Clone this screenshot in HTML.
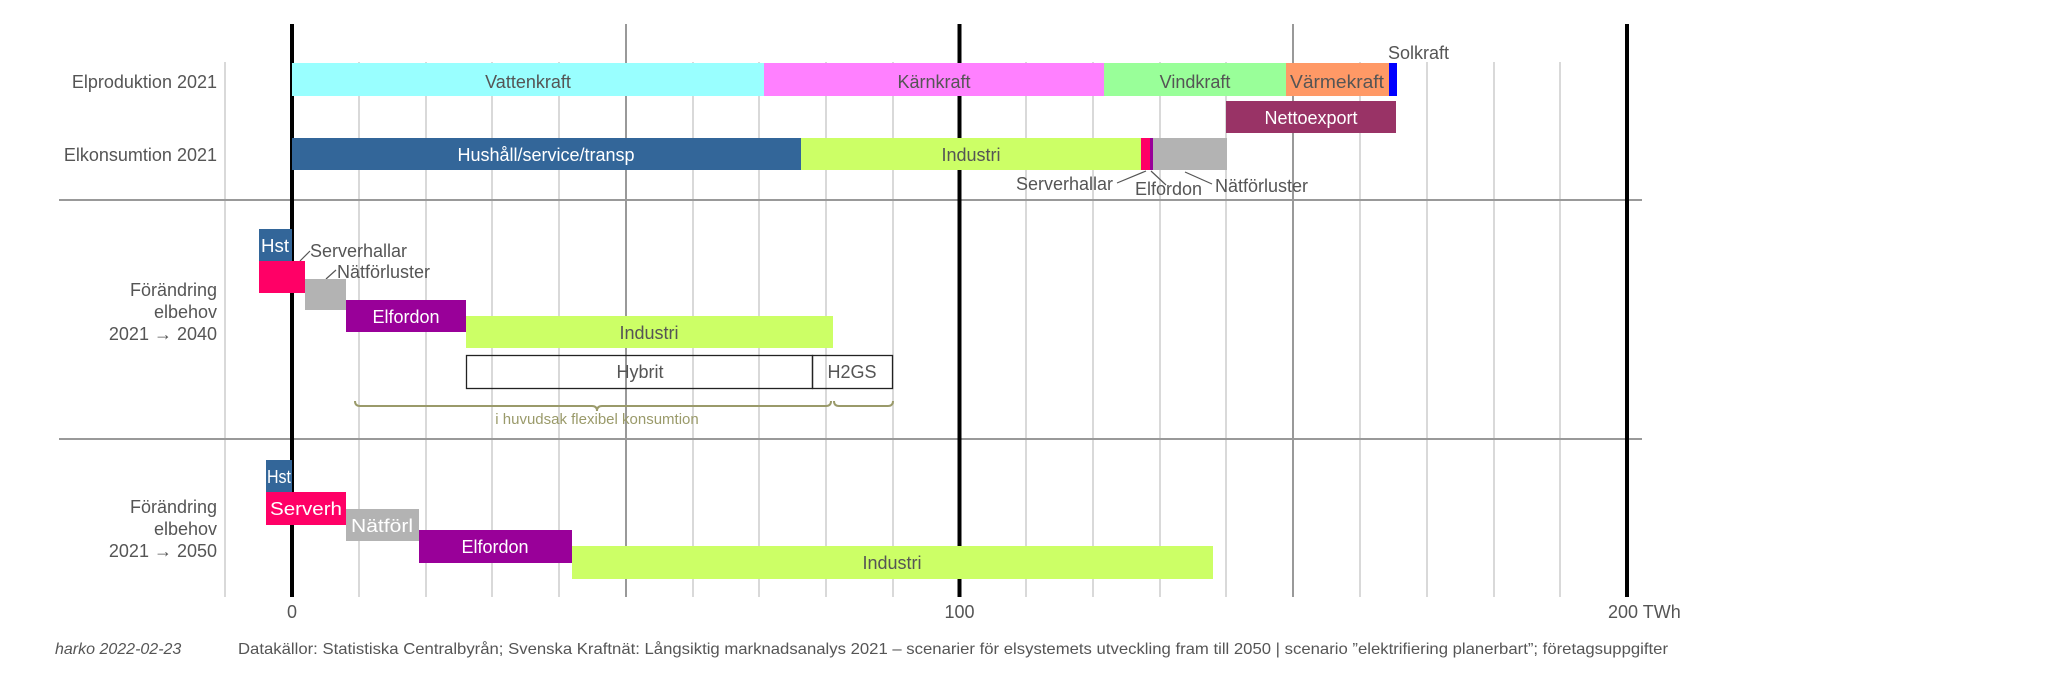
<!DOCTYPE html>
<html><head><meta charset="utf-8"><style>
html,body{margin:0;padding:0;background:#fff}
svg{display:block}
text{font-family:"Liberation Sans",sans-serif;font-size:18px;fill:#555}
.w{fill:#fff}
.r{text-anchor:end}
.m{text-anchor:middle}
</style></head><body>
<svg width="2048" height="675" viewBox="0 0 2048 675">
<!-- minor grid -->
<g stroke="#d9d9d9" stroke-width="2">
<line x1="225" y1="62" x2="225" y2="597"/>
<line x1="359" y1="62" x2="359" y2="597"/>
<line x1="426" y1="62" x2="426" y2="597"/>
<line x1="492" y1="62" x2="492" y2="597"/>
<line x1="559" y1="62" x2="559" y2="597"/>
<line x1="693" y1="62" x2="693" y2="597"/>
<line x1="759" y1="62" x2="759" y2="597"/>
<line x1="826" y1="62" x2="826" y2="597"/>
<line x1="893" y1="62" x2="893" y2="597"/>
<line x1="1026" y1="62" x2="1026" y2="597"/>
<line x1="1093" y1="62" x2="1093" y2="597"/>
<line x1="1160" y1="62" x2="1160" y2="597"/>
<line x1="1226" y1="62" x2="1226" y2="597"/>
<line x1="1360" y1="62" x2="1360" y2="597"/>
<line x1="1427" y1="62" x2="1427" y2="597"/>
<line x1="1494" y1="62" x2="1494" y2="597"/>
<line x1="1560" y1="62" x2="1560" y2="597"/>
</g>
<g stroke="#999" stroke-width="2">
<line x1="626" y1="24" x2="626" y2="597"/>
<line x1="1293" y1="24" x2="1293" y2="597"/>
<line x1="59" y1="200" x2="1642" y2="200"/>
<line x1="59" y1="439" x2="1642" y2="439"/>
</g>
<!-- thick axes -->
<g stroke="#000" stroke-width="4">
<line x1="292" y1="24" x2="292" y2="597"/>
<line x1="959.5" y1="24" x2="959.5" y2="597"/>
<line x1="1627" y1="24" x2="1627" y2="597"/>
</g>
<!-- rows -->
<rect x="292" y="63" width="472" height="33" fill="#99ffff"/>
<rect x="764" y="63" width="340" height="33" fill="#ff80ff"/>
<rect x="1104" y="63" width="182" height="33" fill="#99ff99"/>
<rect x="1286" y="63" width="103" height="33" fill="#ff9966"/>
<rect x="1389" y="63" width="8" height="33" fill="#0000ff"/>
<rect x="1226" y="101" width="170" height="32" fill="#993366"/>
<rect x="292" y="138" width="509" height="32" fill="#336699"/>
<rect x="801" y="138" width="340" height="32" fill="#ccff66"/>
<rect x="1141" y="138" width="9" height="32" fill="#ff0066"/>
<rect x="1150" y="138" width="3" height="32" fill="#990099"/>
<rect x="1153" y="138" width="74" height="32" fill="#b3b3b3"/>
<text x="528" y="88" class="m">Vattenkraft</text>
<text x="934" y="88" class="m">Kärnkraft</text>
<text x="1195" y="88" class="m">Vindkraft</text>
<text x="1337" y="88" class="m" textLength="94" lengthAdjust="spacingAndGlyphs">Värmekraft</text>
<text x="1388" y="59">Solkraft</text>
<text x="1311" y="124" class="m w">Nettoexport</text>
<text x="546" y="161" class="m w">Hushåll/service/transp</text>
<text x="971" y="161" class="m">Industri</text>
<g stroke="#555" stroke-width="1.2" fill="none">
<line x1="1146" y1="171" x2="1117" y2="183"/>
<line x1="1151" y1="171" x2="1166" y2="185"/>
<line x1="1185" y1="172" x2="1212" y2="184"/>
<line x1="300" y1="261" x2="310" y2="251"/>
<line x1="326" y1="279" x2="336" y2="270"/>
</g>
<text x="1113" y="190" class="r">Serverhallar</text>
<text x="1135" y="195">Elfordon</text>
<text x="1215" y="192">Nätförluster</text>
<!-- 2040 -->
<rect x="259" y="229" width="33" height="32" fill="#336699"/>
<rect x="259" y="261" width="46" height="32" fill="#ff0066"/>
<rect x="305" y="279" width="41" height="31" fill="#b3b3b3"/>
<rect x="346" y="300" width="120" height="32" fill="#990099"/>
<rect x="466" y="316" width="367" height="32" fill="#ccff66"/>
<rect x="466.5" y="355.5" width="346" height="33" fill="none" stroke="#222" stroke-width="1.3"/>
<rect x="812.5" y="355.5" width="80" height="33" fill="none" stroke="#222" stroke-width="1.3"/>
<text x="275" y="252" class="m w" textLength="28" lengthAdjust="spacingAndGlyphs">Hst</text>
<text x="310" y="257">Serverhallar</text>
<text x="337" y="278">Nätförluster</text>
<text x="406" y="323" class="m w">Elfordon</text>
<text x="649" y="339" class="m">Industri</text>
<text x="640" y="378" class="m">Hybrit</text>
<text x="852" y="378" class="m">H2GS</text>
<g stroke="#9a9a6a" stroke-width="2" fill="none">
<path d="M355,401 q0,5 5,5 L592,406 q5,0 5,5 q0,-5 5,-5 L826,406 q5,0 5,-5"/>
<path d="M834,401 q0,5 5,5 L888,406 q5,0 5,-5"/>
</g>
<text x="597" y="424" class="m" style="fill:#9a9a6a;font-size:15px">i huvudsak flexibel konsumtion</text>
<!-- 2050 -->
<rect x="266" y="460" width="26" height="32" fill="#336699"/>
<rect x="266" y="492" width="80" height="33" fill="#ff0066"/>
<rect x="346" y="509" width="73" height="32" fill="#b3b3b3"/>
<rect x="419" y="530" width="153" height="33" fill="#990099"/>
<rect x="572" y="546" width="641" height="33" fill="#ccff66"/>
<text x="279" y="483" class="m w" textLength="24" lengthAdjust="spacingAndGlyphs">Hst</text>
<text x="306" y="515" class="m w" textLength="72" lengthAdjust="spacingAndGlyphs">Serverh</text>
<text x="382" y="532" class="m w" textLength="62" lengthAdjust="spacingAndGlyphs">Nätförl</text>
<text x="495" y="553" class="m w">Elfordon</text>
<text x="892" y="569" class="m">Industri</text>
<!-- y labels -->
<text x="217" y="88" class="r">Elproduktion 2021</text>
<text x="217" y="161" class="r">Elkonsumtion 2021</text>
<text x="217" y="296" class="r">Förändring</text>
<text x="217" y="318" class="r">elbehov</text>
<text x="217" y="340" class="r">2021 → 2040</text>
<text x="217" y="513" class="r">Förändring</text>
<text x="217" y="535" class="r">elbehov</text>
<text x="217" y="557" class="r">2021 → 2050</text>
<!-- ticks -->
<text x="292" y="618" class="m">0</text>
<text x="959.5" y="618" class="m">100</text>
<text x="1608" y="618">200 TWh</text>
<text x="55" y="654" style="font-style:italic;font-size:16px">harko 2022-02-23</text>
<text x="238" y="654" style="font-size:16px" textLength="1430" lengthAdjust="spacingAndGlyphs">Datakällor: Statistiska Centralbyrån; Svenska Kraftnät: Långsiktig marknadsanalys 2021 – scenarier för elsystemets utveckling fram till 2050 | scenario ”elektrifiering planerbart”; företagsuppgifter</text>
</svg>
</body></html>
